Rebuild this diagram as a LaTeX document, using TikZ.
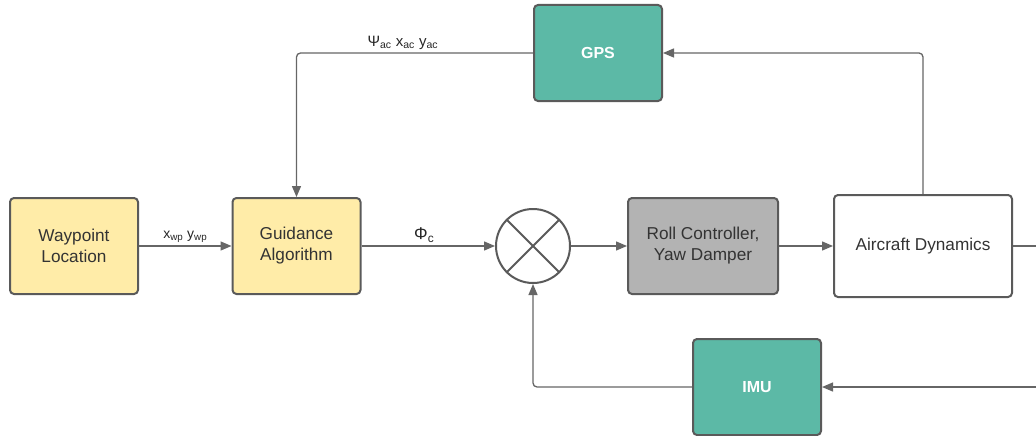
\documentclass[tikz,border=0pt]{standalone}
\usepackage{fontspec}
\setmainfont{Liberation Sans}
\usetikzlibrary{arrows.meta}

\definecolor{boxyellow}{RGB}{255,236,168}
\definecolor{boxteal}{RGB}{92,185,166}
\definecolor{boxgray}{RGB}{179,179,179}
\definecolor{edgegray}{RGB}{90,90,90}
\definecolor{wiregray}{RGB}{102,102,102}

\tikzset{
  block/.style={draw=edgegray, line width=2pt, rounded corners=4pt,
    align=center, text=black!80, inner sep=2pt,
    font=\fontsize{17.2}{21}\selectfont},
  yellowblock/.style={block, fill=boxyellow, minimum width=128pt, minimum height=96pt},
  sensorblock/.style={block, fill=boxteal, text=white, minimum width=128pt, minimum height=96pt,
    font=\fontsize{16}{20}\selectfont\bfseries},
  wire/.style={draw=wiregray, line width=1.3pt, rounded corners=4pt,
    -{Triangle[length=11pt,width=9pt]}},
  plainwire/.style={draw=wiregray, line width=1.3pt, rounded corners=4pt},
  sig/.style={font=\fontsize{14}{16}\selectfont, text=black!85, inner sep=3pt},
}

\begin{document}
\begin{tikzpicture}[x=1pt,y=-1pt]
  \useasboundingbox (0,0) rectangle (1036,436);

  % blocks
  \node[yellowblock] (wp)  at (74,246)   {Waypoint\\Location};
  \node[yellowblock] (gd)  at (296.5,246) {Guidance\\Algorithm};
  \node[draw=edgegray, line width=2pt, circle, minimum size=74pt, inner sep=0pt] (sum) at (533,246) {};
  \draw[edgegray, line width=2pt] (sum.north west) -- (sum.south east)
                                  (sum.north east) -- (sum.south west);
  \node[block, fill=boxgray, minimum width=150pt, minimum height=96pt] (rc) at (703,246) {Roll Controller,\\Yaw Damper};
  \node[block, fill=white, minimum width=178pt, minimum height=102pt] (ac) at (923,246) {Aircraft Dynamics};
  \node[sensorblock] (gps) at (598,53)  {GPS};
  \node[sensorblock] (imu) at (757,387) {IMU};

  % forward path
  \draw[wire] (wp.east) -- node[sig, above] {x\textsubscript{wp} y\textsubscript{wp}} (gd.west);
  \draw[wire] (gd.east) -- node[sig, above, font=\fontsize{17}{18}\selectfont, xshift=-4pt] {Φ\textsubscript{c}} (sum.west);
  \draw[wire] (sum.east) -- (rc.west);
  \draw[wire] (rc.east) -- (ac.west);

  % GPS loop
  \draw[wire] (ac.north) |- (gps.east);
  \coordinate (gpsturn) at (296.5,53);
  \draw[wire] (gps.west) -- node[sig, above, pos=0.55, font=\fontsize{15}{17}\selectfont] {Ψ\textsubscript{ac} x\textsubscript{ac} y\textsubscript{ac}} (gpsturn) -- (gd.north);

  % IMU loop (leaves the frame on the right)
  \coordinate (outR) at (1050,246);
  \coordinate (outRlow) at (1050,387);
  \draw[plainwire] (ac.east) -- (outR);
  \draw[wire] (outRlow) -- (imu.east);
  \draw[wire] (imu.west) -| (sum.south);
\end{tikzpicture}
\end{document}
